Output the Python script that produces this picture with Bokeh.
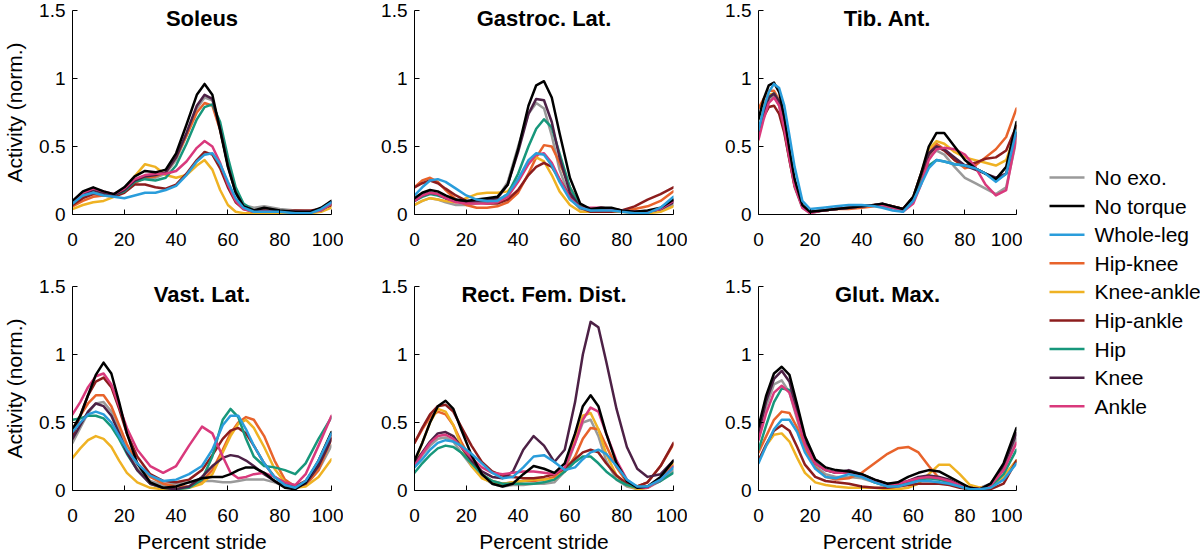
import numpy as np
from bokeh.plotting import figure
from bokeh.layouts import row, column
from bokeh.models import Range1d, FixedTicker, CustomJSTickFormatter, Label
from bokeh.embed import file_html
from bokeh.resources import INLINE
from bokeh.core.properties import value

FONT = "Liberation Sans"

conditions = ["No exo.", "No torque", "Whole-leg", "Hip-knee", "Knee-ankle",
              "Hip-ankle", "Hip", "Knee", "Ankle"]
colors = ["#9a9a9a", "#000000", "#2a9ddb", "#e8632b", "#efb223",
          "#8c1d1d", "#17977b", "#4d2146", "#d9397c"]

x_ticks = [0, 20, 40, 60, 80, 100]
y_ticks = [0, 0.5, 1, 1.5]

muscles = ["Soleus", "Gastroc. Lat.", "Tib. Ant.", "Vast. Lat.", "Rect. Fem. Dist.", "Glut. Max."]

# ---------------- Soleus ----------------
soleus_x = [0, 4, 8, 12, 16, 20, 24, 28, 32, 36, 40, 44, 48, 51, 54, 57, 60, 63, 66, 70, 74, 80, 86, 92, 96, 100]
soleus = {
    "No exo.":    [0.08, 0.13, 0.16, 0.15, 0.14, 0.18, 0.24, 0.27, 0.27, 0.30, 0.40, 0.58, 0.78, 0.86, 0.84, 0.64, 0.38, 0.17, 0.07, 0.05, 0.06, 0.04, 0.03, 0.02, 0.04, 0.09],
    "No torque":  [0.10, 0.17, 0.20, 0.17, 0.15, 0.20, 0.28, 0.32, 0.31, 0.33, 0.45, 0.66, 0.88, 0.96, 0.88, 0.62, 0.35, 0.16, 0.06, 0.03, 0.05, 0.03, 0.02, 0.02, 0.05, 0.10],
    "Whole-leg":  [0.08, 0.14, 0.16, 0.14, 0.13, 0.12, 0.14, 0.16, 0.16, 0.18, 0.21, 0.29, 0.39, 0.44, 0.45, 0.37, 0.24, 0.12, 0.05, 0.02, 0.02, 0.02, 0.01, 0.01, 0.04, 0.09],
    "Hip-knee":   [0.06, 0.10, 0.13, 0.14, 0.13, 0.17, 0.23, 0.27, 0.28, 0.31, 0.42, 0.58, 0.75, 0.82, 0.80, 0.62, 0.37, 0.17, 0.06, 0.03, 0.03, 0.02, 0.02, 0.02, 0.03, 0.07],
    "Knee-ankle": [0.04, 0.07, 0.09, 0.10, 0.13, 0.19, 0.28, 0.37, 0.35, 0.29, 0.27, 0.29, 0.36, 0.40, 0.33, 0.18, 0.07, 0.02, 0.01, 0.01, 0.01, 0.01, 0.01, 0.01, 0.02, 0.05],
    "Hip-ankle":  [0.07, 0.12, 0.15, 0.15, 0.13, 0.16, 0.22, 0.22, 0.20, 0.19, 0.22, 0.30, 0.40, 0.46, 0.44, 0.34, 0.20, 0.09, 0.04, 0.02, 0.02, 0.02, 0.03, 0.03, 0.04, 0.07],
    "Hip":        [0.08, 0.15, 0.18, 0.16, 0.14, 0.17, 0.24, 0.26, 0.25, 0.27, 0.36, 0.52, 0.70, 0.79, 0.81, 0.68, 0.42, 0.20, 0.08, 0.03, 0.02, 0.02, 0.02, 0.02, 0.03, 0.08],
    "Knee":       [0.09, 0.15, 0.18, 0.16, 0.14, 0.18, 0.25, 0.28, 0.29, 0.31, 0.42, 0.60, 0.80, 0.88, 0.85, 0.63, 0.36, 0.16, 0.06, 0.03, 0.03, 0.02, 0.02, 0.02, 0.04, 0.09],
    "Ankle":      [0.09, 0.16, 0.19, 0.17, 0.15, 0.19, 0.26, 0.29, 0.30, 0.30, 0.32, 0.39, 0.49, 0.54, 0.50, 0.38, 0.22, 0.10, 0.04, 0.02, 0.02, 0.02, 0.02, 0.02, 0.03, 0.08],
}

# ---------------- Gastroc. Lat. ----------------
gastroc_x = [0, 3, 6, 9, 12, 16, 20, 24, 28, 32, 36, 40, 44, 47, 50, 53, 56, 60, 64, 68, 72, 76, 80, 85, 90, 95, 100]
gastroc = {
    "No exo.":    [0.07, 0.10, 0.12, 0.11, 0.09, 0.07, 0.07, 0.08, 0.09, 0.12, 0.24, 0.50, 0.74, 0.82, 0.78, 0.58, 0.33, 0.12, 0.04, 0.03, 0.04, 0.04, 0.03, 0.02, 0.02, 0.03, 0.07],
    "No torque":  [0.12, 0.16, 0.18, 0.17, 0.14, 0.11, 0.10, 0.11, 0.12, 0.13, 0.22, 0.48, 0.80, 0.95, 0.98, 0.86, 0.60, 0.27, 0.08, 0.04, 0.05, 0.05, 0.03, 0.02, 0.03, 0.05, 0.11],
    "Whole-leg":  [0.14, 0.20, 0.25, 0.26, 0.24, 0.19, 0.14, 0.11, 0.10, 0.10, 0.15, 0.26, 0.40, 0.45, 0.44, 0.36, 0.24, 0.11, 0.05, 0.03, 0.03, 0.03, 0.02, 0.01, 0.01, 0.05, 0.13],
    "Hip-knee":   [0.20, 0.25, 0.27, 0.24, 0.18, 0.11, 0.07, 0.05, 0.05, 0.06, 0.09, 0.16, 0.30, 0.42, 0.51, 0.50, 0.38, 0.20, 0.07, 0.03, 0.02, 0.02, 0.03, 0.04, 0.06, 0.10, 0.17],
    "Knee-ankle": [0.07, 0.10, 0.12, 0.11, 0.10, 0.09, 0.12, 0.15, 0.16, 0.16, 0.17, 0.26, 0.38, 0.42, 0.39, 0.29, 0.17, 0.07, 0.02, 0.02, 0.02, 0.02, 0.02, 0.01, 0.01, 0.02, 0.06],
    "Hip-ankle":  [0.20, 0.23, 0.25, 0.23, 0.19, 0.14, 0.10, 0.09, 0.08, 0.08, 0.11, 0.18, 0.29, 0.35, 0.38, 0.35, 0.26, 0.13, 0.05, 0.02, 0.02, 0.02, 0.03, 0.06, 0.11, 0.15, 0.20],
    "Hip":        [0.10, 0.13, 0.15, 0.14, 0.12, 0.10, 0.09, 0.09, 0.09, 0.10, 0.15, 0.30, 0.50, 0.63, 0.70, 0.64, 0.45, 0.20, 0.06, 0.03, 0.04, 0.04, 0.03, 0.02, 0.02, 0.04, 0.10],
    "Knee":       [0.10, 0.14, 0.16, 0.15, 0.12, 0.10, 0.09, 0.10, 0.11, 0.12, 0.22, 0.46, 0.74, 0.85, 0.84, 0.68, 0.42, 0.16, 0.05, 0.04, 0.05, 0.04, 0.03, 0.02, 0.02, 0.04, 0.09],
    "Ankle":      [0.10, 0.14, 0.16, 0.15, 0.12, 0.09, 0.08, 0.08, 0.08, 0.09, 0.13, 0.24, 0.37, 0.44, 0.45, 0.38, 0.26, 0.12, 0.05, 0.05, 0.05, 0.04, 0.03, 0.02, 0.02, 0.04, 0.10],
}

# ---------------- Tib. Ant. ----------------
tib_x = [0, 2, 4, 6, 8, 10, 12, 14, 17, 20, 25, 30, 35, 40, 45, 48, 52, 56, 60, 63, 66, 69, 72, 76, 80, 84, 88, 92, 96, 100]
tib = {
    "No exo.":    [0.60, 0.74, 0.84, 0.87, 0.80, 0.62, 0.40, 0.20, 0.05, 0.01, 0.03, 0.04, 0.05, 0.06, 0.07, 0.07, 0.06, 0.04, 0.12, 0.28, 0.42, 0.47, 0.44, 0.35, 0.27, 0.23, 0.19, 0.15, 0.20, 0.55],
    "No torque":  [0.70, 0.85, 0.95, 0.97, 0.90, 0.72, 0.48, 0.26, 0.07, 0.02, 0.03, 0.04, 0.05, 0.06, 0.07, 0.08, 0.06, 0.04, 0.13, 0.30, 0.50, 0.60, 0.60, 0.50, 0.40, 0.34, 0.30, 0.26, 0.35, 0.68],
    "Whole-leg":  [0.62, 0.78, 0.90, 0.96, 0.93, 0.80, 0.58, 0.35, 0.10, 0.04, 0.05, 0.06, 0.07, 0.07, 0.06, 0.05, 0.03, 0.02, 0.10, 0.22, 0.34, 0.40, 0.39, 0.37, 0.36, 0.34, 0.30, 0.24, 0.30, 0.62],
    "Hip-knee":   [0.78, 0.85, 0.91, 0.91, 0.84, 0.66, 0.42, 0.22, 0.06, 0.02, 0.03, 0.04, 0.04, 0.05, 0.06, 0.06, 0.05, 0.04, 0.11, 0.28, 0.45, 0.52, 0.48, 0.40, 0.34, 0.36, 0.42, 0.48, 0.57, 0.78],
    "Knee-ankle": [0.70, 0.80, 0.88, 0.89, 0.82, 0.65, 0.42, 0.22, 0.06, 0.02, 0.03, 0.04, 0.05, 0.06, 0.07, 0.07, 0.06, 0.04, 0.13, 0.30, 0.48, 0.54, 0.52, 0.46, 0.42, 0.40, 0.38, 0.36, 0.40, 0.62],
    "Hip-ankle":  [0.62, 0.72, 0.79, 0.80, 0.74, 0.60, 0.40, 0.21, 0.06, 0.02, 0.03, 0.04, 0.05, 0.06, 0.07, 0.07, 0.06, 0.04, 0.12, 0.28, 0.44, 0.50, 0.47, 0.40, 0.36, 0.38, 0.41, 0.42, 0.47, 0.65],
    "Hip":        [0.60, 0.75, 0.86, 0.89, 0.83, 0.66, 0.44, 0.23, 0.06, 0.02, 0.03, 0.04, 0.05, 0.06, 0.07, 0.07, 0.05, 0.03, 0.10, 0.24, 0.36, 0.40, 0.39, 0.37, 0.36, 0.34, 0.30, 0.25, 0.30, 0.60],
    "Knee":       [0.60, 0.75, 0.86, 0.89, 0.83, 0.66, 0.44, 0.23, 0.06, 0.02, 0.03, 0.04, 0.05, 0.06, 0.07, 0.08, 0.06, 0.04, 0.13, 0.30, 0.45, 0.50, 0.48, 0.42, 0.36, 0.33, 0.30, 0.27, 0.30, 0.60],
    "Ankle":      [0.55, 0.70, 0.82, 0.86, 0.80, 0.63, 0.41, 0.21, 0.05, 0.01, 0.03, 0.04, 0.05, 0.06, 0.07, 0.07, 0.05, 0.02, 0.08, 0.22, 0.40, 0.48, 0.49, 0.48, 0.44, 0.35, 0.22, 0.14, 0.18, 0.58],
}

# ---------------- Vast. Lat. ----------------
vast_x = [0, 3, 6, 9, 12, 15, 18, 21, 25, 30, 35, 40, 45, 50, 54, 58, 61, 64, 67, 70, 74, 78, 82, 86, 90, 95, 100]
vast = {
    "No exo.":    [0.35, 0.46, 0.57, 0.64, 0.65, 0.58, 0.44, 0.30, 0.16, 0.07, 0.04, 0.05, 0.06, 0.07, 0.07, 0.06, 0.06, 0.07, 0.08, 0.08, 0.08, 0.06, 0.03, 0.02, 0.04, 0.15, 0.33],
    "No torque":  [0.45, 0.55, 0.70, 0.85, 0.94, 0.86, 0.65, 0.42, 0.20, 0.06, 0.02, 0.03, 0.06, 0.09, 0.10, 0.10, 0.12, 0.15, 0.17, 0.17, 0.13, 0.07, 0.02, 0.01, 0.06, 0.22, 0.43],
    "Whole-leg":  [0.43, 0.50, 0.56, 0.58, 0.56, 0.50, 0.40, 0.30, 0.20, 0.11, 0.07, 0.08, 0.12, 0.18, 0.30, 0.48, 0.55, 0.55, 0.45, 0.33, 0.20, 0.10, 0.04, 0.02, 0.07, 0.22, 0.42],
    "Hip-knee":   [0.45, 0.55, 0.64, 0.70, 0.70, 0.62, 0.48, 0.34, 0.20, 0.10, 0.05, 0.03, 0.03, 0.07, 0.15, 0.30, 0.42, 0.50, 0.54, 0.52, 0.40, 0.22, 0.08, 0.03, 0.04, 0.15, 0.38],
    "Knee-ankle": [0.24, 0.31, 0.37, 0.40, 0.38, 0.32, 0.22, 0.13, 0.06, 0.02, 0.01, 0.01, 0.02, 0.05, 0.12, 0.28, 0.40, 0.49, 0.52, 0.46, 0.32, 0.16, 0.06, 0.02, 0.03, 0.10, 0.23],
    "Hip-ankle":  [0.40, 0.55, 0.70, 0.80, 0.83, 0.76, 0.60, 0.42, 0.25, 0.12, 0.07, 0.06, 0.08, 0.15, 0.26, 0.38, 0.44, 0.46, 0.42, 0.33, 0.20, 0.10, 0.05, 0.03, 0.07, 0.20, 0.40],
    "Hip":        [0.52, 0.53, 0.55, 0.55, 0.53, 0.47, 0.38, 0.27, 0.15, 0.05, 0.02, 0.01, 0.02, 0.08, 0.25, 0.52, 0.60, 0.54, 0.38, 0.25, 0.18, 0.17, 0.15, 0.12, 0.20, 0.38, 0.54],
    "Knee":       [0.38, 0.48, 0.58, 0.64, 0.62, 0.55, 0.42, 0.28, 0.15, 0.05, 0.02, 0.01, 0.03, 0.10, 0.18, 0.24, 0.26, 0.25, 0.22, 0.18, 0.12, 0.07, 0.03, 0.02, 0.05, 0.18, 0.38],
    "Ankle":      [0.56, 0.65, 0.76, 0.84, 0.86, 0.78, 0.62, 0.46, 0.30, 0.18, 0.13, 0.18, 0.33, 0.47, 0.42, 0.25, 0.13, 0.09, 0.10, 0.12, 0.13, 0.10, 0.06, 0.04, 0.12, 0.33, 0.55],
}

# ---------------- Rect. Fem. Dist. ----------------
rect_x = [0, 3, 6, 9, 12, 15, 18, 22, 26, 30, 34, 38, 42, 46, 50, 54, 58, 62, 65, 68, 71, 74, 78, 82, 86, 90, 95, 100]
rect = {
    "No exo.":    [0.18, 0.26, 0.33, 0.38, 0.39, 0.36, 0.28, 0.18, 0.10, 0.05, 0.03, 0.04, 0.04, 0.05, 0.05, 0.06, 0.14, 0.35, 0.50, 0.52, 0.40, 0.22, 0.08, 0.03, 0.01, 0.02, 0.07, 0.15],
    "No torque":  [0.22, 0.35, 0.50, 0.62, 0.66, 0.60, 0.45, 0.26, 0.12, 0.05, 0.03, 0.05, 0.12, 0.18, 0.16, 0.13, 0.20, 0.42, 0.62, 0.70, 0.62, 0.42, 0.20, 0.07, 0.02, 0.03, 0.10, 0.22],
    "Whole-leg":  [0.17, 0.23, 0.30, 0.35, 0.37, 0.36, 0.33, 0.27, 0.20, 0.13, 0.09, 0.10, 0.17, 0.25, 0.26, 0.21, 0.15, 0.17, 0.23, 0.28, 0.30, 0.27, 0.18, 0.08, 0.03, 0.03, 0.08, 0.17],
    "Hip-knee":   [0.35, 0.45, 0.54, 0.58, 0.56, 0.48, 0.36, 0.22, 0.12, 0.07, 0.05, 0.06, 0.07, 0.07, 0.08, 0.10, 0.14, 0.25, 0.38, 0.46, 0.45, 0.33, 0.17, 0.06, 0.03, 0.06, 0.18, 0.34],
    "Knee-ankle": [0.20, 0.35, 0.50, 0.60, 0.58, 0.48, 0.33, 0.18, 0.09, 0.06, 0.05, 0.06, 0.07, 0.08, 0.08, 0.08, 0.15, 0.38, 0.55, 0.57, 0.45, 0.27, 0.11, 0.04, 0.01, 0.02, 0.08, 0.20],
    "Hip-ankle":  [0.35, 0.46, 0.56, 0.62, 0.63, 0.58, 0.47, 0.33, 0.21, 0.14, 0.11, 0.10, 0.09, 0.09, 0.10, 0.12, 0.16, 0.23, 0.28, 0.30, 0.28, 0.20, 0.11, 0.05, 0.03, 0.06, 0.18, 0.35],
    "Hip":        [0.13, 0.20, 0.26, 0.31, 0.33, 0.32, 0.28, 0.20, 0.12, 0.07, 0.05, 0.05, 0.05, 0.05, 0.06, 0.08, 0.14, 0.21, 0.25, 0.25, 0.20, 0.14, 0.08, 0.04, 0.02, 0.03, 0.07, 0.13],
    "Knee":       [0.20, 0.28, 0.36, 0.42, 0.43, 0.40, 0.32, 0.22, 0.14, 0.10, 0.09, 0.14, 0.30, 0.40, 0.33, 0.21, 0.30, 0.65, 1.00, 1.24, 1.20, 0.95, 0.60, 0.32, 0.16, 0.10, 0.12, 0.22],
    "Ankle":      [0.18, 0.27, 0.35, 0.40, 0.41, 0.38, 0.32, 0.24, 0.17, 0.13, 0.12, 0.13, 0.14, 0.14, 0.13, 0.12, 0.17, 0.35, 0.52, 0.61, 0.58, 0.42, 0.22, 0.08, 0.02, 0.02, 0.08, 0.18],
}

# ---------------- Glut. Max. ----------------
glut_x = [0, 3, 6, 9, 12, 15, 18, 22, 26, 30, 35, 40, 45, 50, 54, 58, 62, 66, 70, 74, 78, 82, 86, 90, 95, 100]
glut = {
    "No exo.":    [0.40, 0.62, 0.78, 0.81, 0.72, 0.52, 0.32, 0.18, 0.12, 0.10, 0.10, 0.09, 0.06, 0.03, 0.04, 0.06, 0.08, 0.09, 0.08, 0.07, 0.04, 0.02, 0.02, 0.05, 0.16, 0.38],
    "No torque":  [0.47, 0.70, 0.86, 0.91, 0.85, 0.63, 0.40, 0.23, 0.17, 0.15, 0.14, 0.12, 0.08, 0.05, 0.06, 0.10, 0.13, 0.15, 0.14, 0.10, 0.06, 0.02, 0.01, 0.05, 0.20, 0.46],
    "Whole-leg":  [0.20, 0.33, 0.45, 0.52, 0.52, 0.43, 0.28, 0.16, 0.10, 0.09, 0.12, 0.10, 0.06, 0.03, 0.03, 0.05, 0.07, 0.07, 0.06, 0.05, 0.03, 0.01, 0.01, 0.02, 0.08, 0.20],
    "Hip-knee":   [0.28, 0.40, 0.52, 0.58, 0.57, 0.46, 0.30, 0.17, 0.10, 0.08, 0.09, 0.13, 0.20, 0.27, 0.31, 0.32, 0.28, 0.18, 0.09, 0.05, 0.03, 0.02, 0.02, 0.03, 0.10, 0.22],
    "Knee-ankle": [0.22, 0.33, 0.41, 0.42, 0.36, 0.24, 0.13, 0.06, 0.04, 0.03, 0.02, 0.02, 0.02, 0.01, 0.01, 0.02, 0.05, 0.12, 0.19, 0.19, 0.12, 0.04, 0.02, 0.03, 0.10, 0.22],
    "Hip-ankle":  [0.22, 0.34, 0.44, 0.48, 0.44, 0.32, 0.19, 0.10, 0.07, 0.06, 0.05, 0.03, 0.02, 0.02, 0.03, 0.04, 0.05, 0.05, 0.05, 0.04, 0.02, 0.01, 0.01, 0.01, 0.05, 0.22],
    "Hip":        [0.30, 0.48, 0.65, 0.75, 0.74, 0.58, 0.38, 0.22, 0.15, 0.13, 0.14, 0.11, 0.06, 0.03, 0.04, 0.06, 0.08, 0.09, 0.08, 0.06, 0.03, 0.01, 0.01, 0.03, 0.12, 0.30],
    "Knee":       [0.42, 0.66, 0.82, 0.88, 0.80, 0.58, 0.36, 0.20, 0.15, 0.13, 0.15, 0.12, 0.08, 0.05, 0.05, 0.07, 0.10, 0.11, 0.10, 0.08, 0.04, 0.02, 0.01, 0.05, 0.18, 0.42],
    "Ankle":      [0.37, 0.57, 0.72, 0.77, 0.72, 0.54, 0.34, 0.20, 0.15, 0.13, 0.13, 0.11, 0.07, 0.04, 0.05, 0.07, 0.09, 0.10, 0.09, 0.07, 0.04, 0.02, 0.01, 0.04, 0.15, 0.35],
}

panels = [(muscles[0], soleus_x, soleus), (muscles[1], gastroc_x, gastroc), (muscles[2], tib_x, tib),
          (muscles[3], vast_x, vast), (muscles[4], rect_x, rect), (muscles[5], glut_x, glut)]

draw_order = [0, 3, 4, 5, 6, 7, 8, 1, 2]

BL = [70, 71, 71]
BR = [12, 14, 6]
FW = [259, 259, 258]
BT = [10, 12]
BB = [60, 66]
FH = 204

tick_fmt = "return tick.toString();"

figs = []
for k, (name, xs, data) in enumerate(panels):
    r, c = divmod(k, 3)
    p = figure(frame_width=FW[c], frame_height=FH,
               min_border_left=BL[c], min_border_right=BR[c],
               min_border_top=BT[r], min_border_bottom=BB[r],
               x_range=Range1d(0, 100), y_range=Range1d(0, 1.5),
               output_backend="svg", toolbar_location=None, tools="")
    p.outline_line_color = None
    p.xgrid.visible = False
    p.ygrid.visible = False
    p.background_fill_color = "white"
    p.border_fill_color = "white"
    for i in draw_order:
        p.line(xs, data[conditions[i]], line_color=colors[i], line_width=2.5,
               line_join="round", line_cap="round")
    for ax in (p.xaxis[0], p.yaxis[0]):
        ax.axis_line_color = "black"
        ax.axis_line_width = 1
        ax.major_tick_in = 5
        ax.major_tick_out = 0
        ax.major_tick_line_color = "black"
        ax.minor_tick_line_color = None
        ax.major_label_text_font = FONT
        ax.major_label_text_font_size = "19px"
        ax.major_label_text_color = "black"
        ax.axis_label_text_font = FONT
        ax.axis_label_text_font_size = "21px"
        ax.axis_label_text_font_style = "normal"
        ax.axis_label_text_color = "black"
        ax.formatter = CustomJSTickFormatter(code=tick_fmt)
    p.xaxis[0].ticker = FixedTicker(ticks=x_ticks)
    p.yaxis[0].ticker = FixedTicker(ticks=y_ticks)
    p.xaxis[0].major_label_standoff = 18
    p.yaxis[0].major_label_standoff = 7
    if c == 0:
        p.yaxis[0].axis_label = "Activity (norm.)"
        p.yaxis[0].axis_label_standoff = 10
    if r == 1:
        p.xaxis[0].axis_label = "Percent stride"
        p.xaxis[0].axis_label_standoff = 5

    p.add_layout(Label(x=50, y=1.44, text=name, text_align="center", text_baseline="middle",
                       text_font=FONT, text_font_size="22px", text_font_style="bold",
                       text_color="black"))
    figs.append(p)

# ---------------- Legend panel ----------------
LW, LH = 180, 556
leg = figure(frame_width=LW, frame_height=LH, min_border=0,
             x_range=Range1d(0, LW), y_range=Range1d(LH, 0),
             x_axis_type=None, y_axis_type=None,
             output_backend="svg", toolbar_location=None, tools="")
leg.outline_line_color = None
leg.xgrid.visible = False
leg.ygrid.visible = False
idx = np.arange(len(conditions))
ly = 177 + 28.6 * idx
leg.segment(x0=np.full(len(idx), 27.0), y0=ly, x1=np.full(len(idx), 62.0), y1=ly,
            line_color=colors, line_width=2.5)
leg.text(x=np.full(len(idx), 72.0), y=ly, text=conditions, text_baseline="middle",
         text_align="left", text_font=value(FONT), text_font_size="21px", text_color="black")

layout = row(column(row(figs[0], figs[1], figs[2]), row(figs[3], figs[4], figs[5])), leg)

open("out.html", "w").write(file_html(layout, INLINE))
